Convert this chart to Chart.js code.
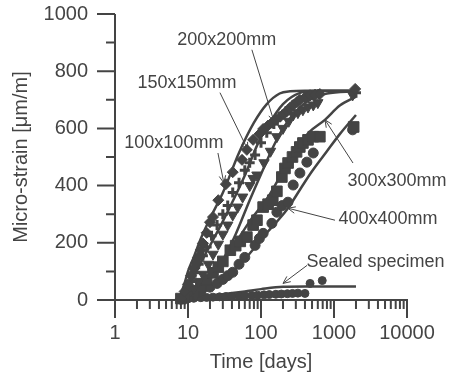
<!DOCTYPE html>
<html><head><meta charset="utf-8">
<script src="https://cdn.jsdelivr.net/npm/chart.js@4"></script>
<style>html,body{margin:0;padding:0;background:#fff}</style>
</head><body>
<canvas id="c" width="454" height="380"></canvas>
<script>
// ---- tick labels ----
const xTickValues = [1, 10, 100, 1000, 10000];
const yTickValues = [0, 200, 400, 600, 800, 1000];
const yMinorValues = [100, 300, 500, 700, 900];

// ---- measured points (time [days], micro-strain) ----
const s100_t = [8, 9, 10, 11, 12, 13, 13.7, 15, 16, 18, 20, 22, 26, 33, 41, 55, 64, 78, 95, 107, 125, 141, 160, 183, 205, 226, 250, 276, 310, 341, 400, 470, 550, 640, 1950];
const s100_v = [5, 30, 55, 85, 110, 130, 149, 175, 198, 235, 272, 290, 349, 405, 447, 490, 525, 560, 580, 598, 610, 620, 630, 641, 650, 660, 672, 682, 692, 700, 708, 716, 718, 720, 738];

const s150_t = [9, 10, 11, 12.5, 14, 16, 18, 21, 25, 30, 35, 41, 50, 60, 70, 83, 100, 120, 150, 180, 220, 270, 330, 420, 520, 620, 2000];
const s150_v = [15, 40, 65, 95, 125, 155, 185, 225, 262, 300, 330, 376, 410, 454, 480, 507, 550, 585, 615, 640, 660, 680, 697, 710, 717, 720, 725];

const s200_t = [10, 12, 14, 16, 19, 22, 26, 30, 35, 41, 48, 56, 70, 78, 88, 110, 135, 165, 200, 240, 276, 320, 375, 440, 520, 600, 1800];
const s200_v = [15, 40, 65, 90, 125, 160, 195, 230, 262, 297, 325, 360, 400, 425, 437, 480, 520, 571, 600, 625, 647, 655, 665, 675, 682, 690, 717];

const s300_t = [8, 10, 12, 15, 18, 22, 26, 30, 38, 45, 52, 64, 78, 88, 107, 125, 145, 165, 193, 213, 235, 270, 307, 340, 375, 440, 520, 640, 1860];
const s300_v = [5, 15, 30, 50, 70, 95, 115, 135, 174, 190, 205, 220, 262, 279, 325, 335, 349, 380, 430, 460, 479, 500, 518, 535, 549, 560, 571, 571, 605];

const s400_t = [8, 10, 12, 15, 20, 25, 30, 35, 41, 50, 60, 83, 95, 107, 141, 165, 195, 234, 276, 341, 425, 520, 1800];
const s400_v = [3, 10, 18, 30, 45, 58, 72, 85, 97, 125, 149, 191, 215, 233, 268, 307, 330, 342, 402, 444, 482, 514, 595];

const sSeal_t = [9, 10, 12, 15, 18, 22, 27, 33, 40, 50, 60, 75, 90, 110, 130, 160, 190, 230, 270, 320, 400, 470, 690];
const sSeal_v = [2, 4, 6, 8, 9, 10, 11, 12, 13, 14, 15, 16, 17, 18, 19, 20, 21, 22, 23, 24, 23, 58, 68];

// ---- fitted curves ----
const c100_t = [7.5, 9, 10, 12, 15, 20, 30, 50, 80, 120, 180, 250, 400, 2000];
const c100_v = [0, 60, 100, 150, 215, 285, 375, 515, 620, 685, 722, 730, 732, 732];
const c150_t = [8, 10, 12, 15, 20, 30, 41, 60, 90, 121, 200, 350, 600, 2000];
const c150_v = [0, 40, 80, 130, 190, 275, 345, 435, 545, 605, 685, 725, 732, 732];
const c200_t = [8, 12, 16, 23, 30, 45, 70, 100, 150, 200, 300, 500, 800, 2000];
const c200_v = [0, 20, 50, 95, 140, 230, 349, 440, 540, 600, 660, 705, 722, 730];
const c300_t = [8, 10, 15, 20, 30, 45, 70, 125, 200, 300, 450, 750, 1200, 2000];
const c300_v = [0, 10, 45, 80, 135, 200, 275, 360, 450, 520, 585, 630, 680, 711];
const c400_t = [8, 10, 15, 20, 30, 50, 80, 120, 180, 234, 350, 500, 800, 1200, 2000];
const c400_v = [0, 5, 22, 40, 70, 120, 180, 235, 285, 321, 390, 450, 520, 580, 647];
const cSeal_t = [8, 15, 30, 60, 100, 200, 400, 2000];
const cSeal_v = [0, 10, 20, 30, 38, 46, 47, 47];

// ---- annotations: label text, text anchor, arrow start, arrow end (data coords) ----
const annLabels = ['200x200mm', '150x150mm', '100x100mm', '300x300mm', '400x400mm', 'Sealed specimen'];
const annText   = [[34, 910], [9.7, 760], [6.4, 549], [7300, 416], [5490, 282], [3700, 132]];
const annFrom   = [[75, 875], [27.4, 725], [25.7, 514], [1820, 479], [1032, 279], [427, 121]];
const annTo     = [[151, 623], [66, 525], [31, 409], [753, 630], [234, 321], [200, 58]];

const INK = '#444444';
const FONT = "'Liberation Sans', Arial, sans-serif";

const pts = (t, v) => t.map((x, i) => ({x: x, y: v[i]}));

function markers(t, v, style, radius, extra) {
  return Object.assign({
    data: pts(t, v), showLine: false, pointStyle: style, pointRadius: radius,
    backgroundColor: INK, borderColor: INK, borderWidth: 1, clip: false, order: 1
  }, extra || {});
}
function curve(t, v) {
  return {
    data: pts(t, v), showLine: true, pointRadius: 0, borderColor: INK, borderWidth: 2.5,
    cubicInterpolationMode: 'monotone', fill: false, clip: false, order: 2
  };
}

const axesPlugin = {
  id: 'axesPlugin',
  beforeDatasetsDraw(chart) {
    const {ctx, scales: {x, y}} = chart;
    const x0 = x.getPixelForValue(xTickValues[0]);
    const x1 = x.getPixelForValue(xTickValues[xTickValues.length - 1]);
    const y0 = y.getPixelForValue(yTickValues[0]);
    const y1 = y.getPixelForValue(yTickValues[yTickValues.length - 1]);
    ctx.save();
    ctx.strokeStyle = INK; ctx.lineWidth = 2; ctx.lineCap = 'butt';
    ctx.beginPath();
    ctx.moveTo(x0, y1); ctx.lineTo(x0, y0);
    ctx.moveTo(x0 - 1, y0); ctx.lineTo(x1 + 1, y0);
    yTickValues.forEach(v => { const p = y.getPixelForValue(v); ctx.moveTo(x0 - 18, p); ctx.lineTo(x0, p); });
    yMinorValues.forEach(v => { const p = y.getPixelForValue(v); ctx.moveTo(x0 - 9, p); ctx.lineTo(x0, p); });
    xTickValues.forEach(v => { const p = x.getPixelForValue(v); ctx.moveTo(p, y0); ctx.lineTo(p, y0 + 18); });
    for (let d = 1; d < 10000; d *= 10) {
      for (let m = 2; m <= 9; m++) { const p = x.getPixelForValue(m * d); ctx.moveTo(p, y0); ctx.lineTo(p, y0 + 9); }
    }
    ctx.stroke();
    ctx.restore();
  },
  afterDatasetsDraw(chart) {
    const {ctx, scales: {x, y}} = chart;
    ctx.save();
    ctx.fillStyle = INK; ctx.strokeStyle = INK; ctx.lineWidth = 1;
    ctx.font = '18px ' + FONT; ctx.textAlign = 'center'; ctx.textBaseline = 'middle';
    annLabels.forEach((lab, i) => {
      ctx.fillText(lab, x.getPixelForValue(annText[i][0]), y.getPixelForValue(annText[i][1]));
      const ax = x.getPixelForValue(annFrom[i][0]), ay = y.getPixelForValue(annFrom[i][1]);
      const bx = x.getPixelForValue(annTo[i][0]), by = y.getPixelForValue(annTo[i][1]);
      const ang = Math.atan2(by - ay, bx - ax), h = 8, w = 0.42;
      ctx.beginPath();
      ctx.moveTo(ax, ay); ctx.lineTo(bx, by);
      ctx.moveTo(bx - h * Math.cos(ang - w), by - h * Math.sin(ang - w));
      ctx.lineTo(bx, by);
      ctx.lineTo(bx - h * Math.cos(ang + w), by - h * Math.sin(ang + w));
      ctx.stroke();
    });
    ctx.restore();
  }
};

new Chart(document.getElementById('c'), {
  type: 'scatter',
  data: {
    datasets: [
      curve(c100_t, c100_v), curve(c150_t, c150_v), curve(c200_t, c200_v),
      curve(c300_t, c300_v), curve(c400_t, c400_v), curve(cSeal_t, cSeal_v),
      markers(s100_t, s100_v, 'rectRot', 5.5),
      markers(s150_t, s150_v, 'cross', 5, {borderWidth: 3}),
      markers(s200_t, s200_v, 'triangle', 6, {pointRotation: 180}),
      markers(s300_t, s300_v, 'rect', 7.5),
      markers(s400_t, s400_v, 'circle', 5),
      markers(sSeal_t, sSeal_v, 'circle', 4)
    ]
  },
  options: {
    responsive: false, animation: false, devicePixelRatio: 1,
    layout: {padding: {top: 14, right: 47, left: 0, bottom: 0}},
    plugins: {legend: {display: false}, tooltip: {enabled: false}},
    scales: {
      x: {
        type: 'logarithmic', min: 1, max: 10000,
        afterBuildTicks: s => { s.ticks = xTickValues.map(v => ({value: v})); },
        afterFit: s => { s.height = 80; },
        grid: {display: false, drawTicks: true, tickLength: 21}, border: {display: false},
        ticks: {color: INK, font: {family: FONT, size: 20}, padding: 0, maxRotation: 0, autoSkip: false,
                callback: v => String(v)},
        title: {display: true, text: 'Time [days]', color: INK, font: {family: FONT, size: 20}, padding: {top: 0, bottom: 6}}
      },
      y: {
        min: 0, max: 1000,
        afterBuildTicks: s => { s.ticks = yTickValues.map(v => ({value: v})); },
        afterFit: s => { s.width = 115; },
        grid: {display: false, drawTicks: true, tickLength: 27}, border: {display: false},
        ticks: {color: INK, font: {family: FONT, size: 20}, padding: 0, autoSkip: false,
                callback: v => String(v)},
        title: {display: true, text: 'Micro-strain [μm/m]', color: INK, font: {family: FONT, size: 20}, padding: {top: 9, bottom: 0}}
      }
    }
  },
  plugins: [axesPlugin]
});
</script>
</body></html>
